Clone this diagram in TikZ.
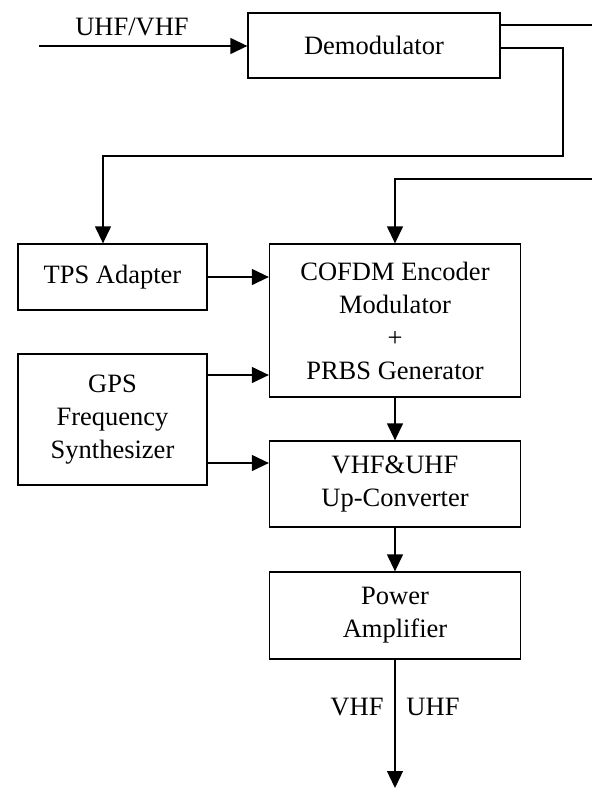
\documentclass[tikz,border=0pt]{standalone}
\usepackage{fontspec}
\setmainfont{Liberation Serif}
\usetikzlibrary{arrows.meta,positioning,calc}

\begin{document}
\begin{tikzpicture}[x=1pt,y=-1pt,
            blk/.style={
                draw,
                line width=1.3pt,
                align=center,
                inner sep=0pt,
                font=\fontsize{26.5}{33}\selectfont
            },
            wire/.style={line width=1.3pt},
            arr/.style={wire, -{Triangle[length=17pt,width=16pt]}},
            lbl/.style={inner sep=0pt, font=\fontsize{26.5}{33}\selectfont}]
            \useasboundingbox (0,0) rectangle (592,795);
            \node[blk, minimum width=252pt, minimum height=65pt] (demod) at (374,45.5) {Demodulator};
            \node[blk, minimum width=189pt, minimum height=66pt] (tps) at (112.5,277) {TPS Adapter};
            \node[blk, minimum width=251pt, minimum height=153pt] (cofdm) at (395,320.5) {COFDM Encoder\\Modulator\\+\\PRBS Generator};
            \node[blk, minimum width=189pt, minimum height=131pt] (gps) at (112.5,419.5) {GPS\\Frequency\\Synthesizer};
            \node[blk, minimum width=251pt, minimum height=86pt] (upconv) at (395,484) {VHF\&UHF\\Up-Converter};
            \node[blk, minimum width=251pt, minimum height=87pt] (pa) at (395,615.5) {Power\\Amplifier};
            \node[lbl] (uvlbl) at (132,27) {UHF/VHF};
            \node[lbl] (vlbl) at (357,707) {VHF};
            \node[lbl] (ulbl) at (433,707) {UHF};
            \coordinate (in) at (39,46);
            \coordinate (outa) at (592,25);
            \coordinate (outb) at (592,179);
            \coordinate (out) at (395,788);
            \draw[arr] (in) -- (in -| demod.west);
            \draw[wire] (outa -| demod.east) -- (outa);
            \draw[arr] (demod.east |- 0,48) -- (563,48) -- (563,156) -- (103,156) -- (103,0 |- tps.north);
            \draw[arr] (outb) -- (outb -| cofdm.north) -- (cofdm.north);
            \draw[arr] (tps.east) -- (tps.east -| cofdm.west);
            \draw[arr] (gps.east |- 0,375) -- (cofdm.west |- 0,375);
            \draw[arr] (gps.east |- 0,463) -- (upconv.west |- 0,463);
            \draw[arr] (cofdm.south) -- (upconv.north);
            \draw[arr] (upconv.south) -- (pa.north);
            \draw[arr] (pa.south) -- (out);
            \end{tikzpicture}
\end{document}
